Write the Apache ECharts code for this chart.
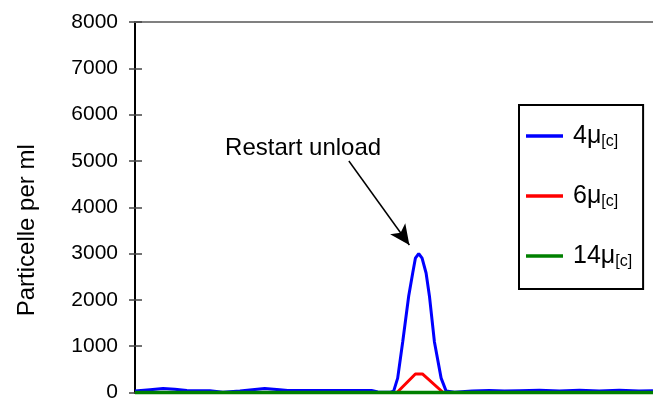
<!DOCTYPE html>
<html>
<head>
<meta charset="utf-8">
<script src="https://cdn.jsdelivr.net/npm/echarts@6/dist/echarts.min.js"></script>
<style>
html,body{margin:0;padding:0;background:#fff;}
#c{width:653px;height:403px;}
</style>
</head>
<body>
<div id="c"></div>
<script>
// ---- data ----
const seriesNames = ['4μ[c]', '6μ[c]', '14μ[c]'];
const legendMain = ['4μ', '6μ', '14μ'];
const seriesColors = ['#0000ff', '#ff0000', '#008000'];

const blueTime = [0, 4.5, 8.4, 11.9, 15.5, 22.4, 26.3, 31.4, 38.8, 43.3, 45.7, 70.8, 72.6, 76.5,
  77.4, 78.6, 80.1, 81.9, 83.1, 83.9, 84.9, 85.9, 87.1, 88.1, 89.6, 91.6, 93.1,
  95.6, 100.9, 106, 110.5, 115, 121, 127, 133, 138.9, 144.9, 150.8, 155];
const blueVal = [30, 60, 85, 70, 45, 40, 5, 30, 85, 60, 45, 45, 10, 5,
  30, 310, 1090, 2085, 2580, 2900, 3000, 2900, 2580, 2085, 1090, 310, 30,
  5, 35, 45, 30, 40, 50, 35, 50, 35, 50, 30, 40];

const redTime = [0, 78.4, 83.9, 86.0, 92.2, 155];
const redVal = [0, 0, 400, 400, 0, 0];

const greenTime = [0, 155];
const greenVal = [0, 0];

const yTickValues = [0, 1000, 2000, 3000, 4000, 5000, 6000, 7000, 8000];
const yAxisTitle = 'Particelle per ml';
const noteText = 'Restart unload';
const noteTextPos = [50.3, 5277];
const arrowFrom = [64, 5000];
const arrowTo = [82.1, 3185];
const xMax = 155;

const pairs = (t, v) => t.map((x, i) => [x, v[i]]);
const FONT = 'Liberation Sans, Arial, sans-serif';

const chart = echarts.init(document.getElementById('c'), null, {renderer: 'canvas'});

const yCommon = {
  type: 'value',
  min: yTickValues[0],
  max: yTickValues[yTickValues.length - 1],
  interval: yTickValues[1] - yTickValues[0],
  splitLine: {show: false}
};

const option = {
  animation: false,
  backgroundColor: '#fff',
  grid: {left: 135, right: -1, top: 22, bottom: 5, containLabel: false},
  xAxis: [
    {type: 'value', min: 0, max: xMax, position: 'bottom',
     axisLine: {show: true, onZero: false, lineStyle: {color: '#000', width: 2}},
     axisTick: {show: false}, axisLabel: {show: false}, splitLine: {show: false}},
    {type: 'value', min: 0, max: xMax, position: 'top',
     axisLine: {show: true, onZero: false, lineStyle: {color: '#808080', width: 2}},
     axisTick: {show: false}, axisLabel: {show: false}, splitLine: {show: false}}
  ],
  yAxis: [
    Object.assign({}, yCommon, {
      position: 'left',
      name: yAxisTitle,
      nameLocation: 'middle',
      nameGap: 96,
      nameTextStyle: {fontFamily: FONT, fontSize: 24, color: '#000', padding: [0, 46, 0, 0]},
      axisLine: {show: true, onZero: false, lineStyle: {color: '#000', width: 2}},
      axisTick: {show: true, inside: false, length: 6, lineStyle: {color: '#444', width: 1.5}},
      axisLabel: {show: true, margin: 17, fontFamily: FONT, fontSize: 21, color: '#000',
                  formatter: function (v) { return String(v); }}
    }),
    Object.assign({}, yCommon, {
      position: 'left',
      axisLine: {show: false, onZero: false},
      axisTick: {show: true, inside: true, length: 7, lineStyle: {color: '#444', width: 1.5}},
      axisLabel: {show: false}
    })
  ],
  legend: {
    orient: 'vertical',
    left: 519,
    top: 105,
    data: seriesNames,
    icon: 'rect',
    itemWidth: 37,
    itemHeight: 3.5,
    itemGap: 32,
    padding: [17, 11, 19, 7],
    borderColor: '#000',
    borderWidth: 2,
    backgroundColor: '#fff',
    selectedMode: false,
    formatter: function (name) {
      const i = seriesNames.indexOf(name);
      return '{a|' + legendMain[i] + '}{b|[c]}';
    },
    textStyle: {
      padding: [0, 0, 0, 5],
      rich: {
        a: {fontFamily: FONT, fontSize: 25, lineHeight: 28, color: '#000'},
        b: {fontFamily: FONT, fontSize: 16, lineHeight: 16, padding: [12, 0, 0, 0], color: '#000'}
      }
    }
  },
  series: [
    {
      name: seriesNames[0], type: 'line', data: pairs(blueTime, blueVal),
      showSymbol: false, symbol: 'none', clip: false,
      lineStyle: {color: seriesColors[0], width: 3}, itemStyle: {color: seriesColors[0]},
      markLine: {
        silent: true, animation: false,
        symbol: ['none', 'arrow'], symbolSize: [14, 20],
        lineStyle: {color: '#000', width: 1.5, type: 'solid'},
        label: {show: false},
        data: [[{coord: arrowFrom}, {coord: arrowTo}]]
      },
      markPoint: {
        silent: true, animation: false,
        symbol: 'circle', symbolSize: 0,
        label: {show: true, position: 'inside', formatter: noteText,
                fontFamily: FONT, fontSize: 24, color: '#000'},
        data: [{coord: noteTextPos}]
      }
    },
    {
      name: seriesNames[1], type: 'line', data: pairs(redTime, redVal),
      showSymbol: false, symbol: 'none', clip: false,
      lineStyle: {color: seriesColors[1], width: 3}, itemStyle: {color: seriesColors[1]}
    },
    {
      name: seriesNames[2], type: 'line', data: pairs(greenTime, greenVal),
      showSymbol: false, symbol: 'none', clip: false,
      lineStyle: {color: seriesColors[2], width: 3.5}, itemStyle: {color: seriesColors[2]}
    }
  ]
};
chart.setOption(option);
</script>
</body>
</html>
